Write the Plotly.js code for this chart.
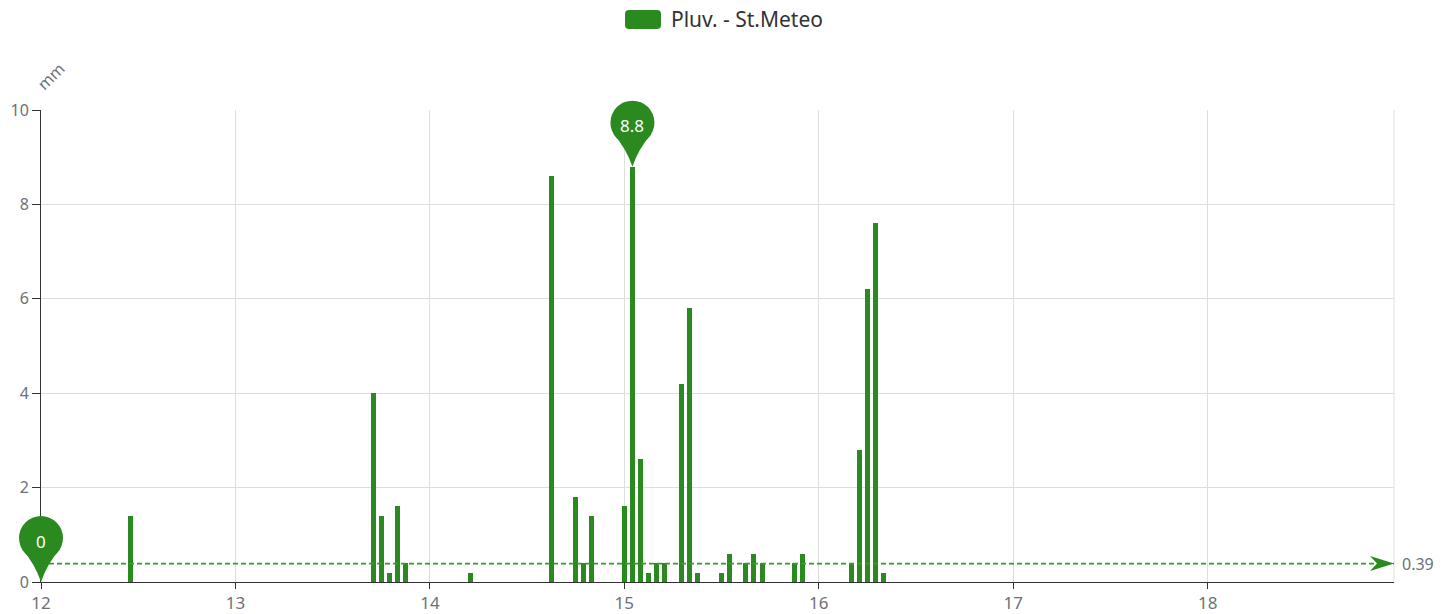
<!DOCTYPE html>
<html><head><meta charset="utf-8">
<script src="https://cdn.plot.ly/plotly-3.0.1.min.js"></script>
<style>html,body{margin:0;padding:0;background:#fff;} #chart{width:1454px;height:614px;}</style>
</head><body><div id="chart"></div>
<script>
// ---- data ----
const monthPrefix = "2024-05-";
const times = ["12 00:00","12 11:00","13 17:00","13 18:00","13 19:00","13 20:00","13 21:00","14 05:00",
  "14 15:00","14 18:00","14 19:00","14 20:00","15 00:00","15 01:00","15 02:00","15 03:00","15 04:00",
  "15 05:00","15 07:00","15 08:00","15 09:00","15 12:00","15 13:00","15 15:00","15 16:00","15 17:00",
  "15 21:00","15 22:00","16 04:00","16 05:00","16 06:00","16 07:00","16 08:00"];
const rain = [0,1.4,4.0,1.4,0.2,1.6,0.4,0.2,
  8.6,1.8,0.4,1.4,1.6,8.8,2.6,0.2,0.4,
  0.4,4.2,5.8,0.2,0.2,0.6,0.4,0.6,0.4,
  0.4,0.6,0.4,2.8,6.2,7.6,0.2];
const seriesName = "Pluv. - St.Meteo";
const yUnit = "mm";
const averageValue = 0.39;
const axisStart = "12 00:00";
const axisEnd = "18 23:00";
const dayTicks = [12,13,14,15,16,17,18];
const yTicks = [0,2,4,6,8,10];

// ---- styling ----
const GREEN = "#2b8a1f";
const LABEL = "#6e7079";
const FONT = "Noto Sans, Open Sans, sans-serif";
const toDate = s => monthPrefix + s;

const xs = times.map(toDate);
let maxIdx = 0, minIdx = 0;
rain.forEach((v,i) => { if (v > rain[maxIdx]) maxIdx = i; if (v < rain[minIdx]) minIdx = i; });

const bars = {
  type: "bar", x: xs, y: rain, name: seriesName,
  marker: {color: GREEN, line: {width: 0}},
  width: 0.62 * 3600000, hoverinfo: "x+y"
};
const avgLine = {
  type: "scatter", mode: "lines",
  x: [toDate(axisStart), toDate(axisEnd)], y: [averageValue, averageValue],
  line: {color: "#3a9a2c", width: 1.6, dash: "5px,3px"}, hoverinfo: "skip"
};

const legendIcon = {
  type: "path", xref: "paper", yref: "paper", xsizemode: "pixel", ysizemode: "pixel",
  xanchor: 0, yanchor: 1,
  path: "M 588 81 L 616 81 Q 620 81 620 85 L 620 96 Q 620 100 616 100 L 588 100 Q 584 100 584 96 L 584 85 Q 584 81 588 81 Z",
  fillcolor: GREEN, line: {width: 0}
};
const rightEdge = {type: "line", xref: "paper", yref: "paper", x0: 1, x1: 1, y0: 0, y1: 1,
  line: {color: "#e0e0e0", width: 1}, layer: "below"};
const arrow = {
  type: "path", xref: "x", yref: "y", xsizemode: "pixel", ysizemode: "pixel",
  xanchor: toDate(axisEnd), yanchor: averageValue,
  path: "M 0 0 L -24 7.5 L -17 0 L -24 -7.5 Z", fillcolor: GREEN, line: {width: 0}
};

const layout = {
  width: 1454, height: 614,
  margin: {l: 41, r: 60, t: 110, b: 32},
  paper_bgcolor: "#fff", plot_bgcolor: "#fff",
  font: {family: FONT, size: 16, color: LABEL},
  showlegend: false,
  bargap: 0,
  xaxis: {
    type: "date", range: [toDate(axisStart), toDate(axisEnd)],
    tickvals: dayTicks.map(d => toDate(d + " 00:00")), ticktext: dayTicks.map(String),
    showgrid: true, gridcolor: "#dedede", gridwidth: 1,
    showline: true, linecolor: "#333", linewidth: 1,
    ticks: "outside", ticklen: 6, tickcolor: "#333",
    tickfont: {size: 17, color: LABEL}, zeroline: false, automargin: false
  },
  yaxis: {
    range: [0, 10], tickvals: yTicks,
    showgrid: true, gridcolor: "#dedede", gridwidth: 1,
    showline: true, linecolor: "#333", linewidth: 1,
    ticks: "outside", ticklen: 8, tickcolor: "#333",
    tickfont: {size: 16, color: LABEL}, zeroline: false, automargin: false
  },
  annotations: [
    {xref: "paper", yref: "paper", x: 0, y: 1, xshift: -11, yshift: 55, text: yUnit,
     textangle: -45, showarrow: false, font: {size: 16, color: LABEL}},
    {xref: "paper", yref: "paper", x: 0, y: 1, xshift: 628, yshift: 91, xanchor: "left", yanchor: "middle",
     text: seriesName, showarrow: false, font: {size: 21, color: "#333"}},
    {xref: "x", yref: "y", x: xs[maxIdx], y: rain[maxIdx], yshift: 41, text: String(rain[maxIdx]),
     showarrow: false, font: {size: 17, color: "#fff"}},
    {xref: "x", yref: "y", x: xs[minIdx], y: rain[minIdx], yshift: 41, text: String(rain[minIdx]),
     showarrow: false, font: {size: 17, color: "#fff"}},
    {xref: "x", yref: "y", x: toDate(axisEnd), y: averageValue, xanchor: "left", xshift: 6,
     text: String(averageValue), showarrow: false, font: {size: 16, color: LABEL}}
  ],
  shapes: [legendIcon, rightEdge, arrow]
};

Plotly.newPlot("chart", [bars, avgLine], layout, {staticPlot: true}).then(gd => {
  const xa = gd._fullLayout.xaxis, ya = gd._fullLayout.yaxis;
  const px = t => xa.c2p(xa.d2c(t)) / xa._length;
  const py = v => 1 - ya.c2p(ya.d2c(v)) / ya._length;
  const pin = (t, v) => {
    const base = {xref: "paper", yref: "paper", xsizemode: "pixel", ysizemode: "pixel",
      xanchor: px(t), yanchor: py(v), fillcolor: GREEN, line: {width: 0}};
    return [
      Object.assign({type: "circle", x0: -22, x1: 22, y0: 22, y1: 66}, base),
      Object.assign({type: "path", path: "M 0 0 Q -6 18 -19.05 33 L 19.05 33 Q 6 18 0 0 Z"}, base)
    ];
  };
  const shapes = [legendIcon, rightEdge, arrow]
    .concat(pin(xs[maxIdx], rain[maxIdx]))
    .concat(pin(xs[minIdx], rain[minIdx]));
  return Plotly.relayout(gd, {shapes: shapes});
});
</script>
</body></html>
